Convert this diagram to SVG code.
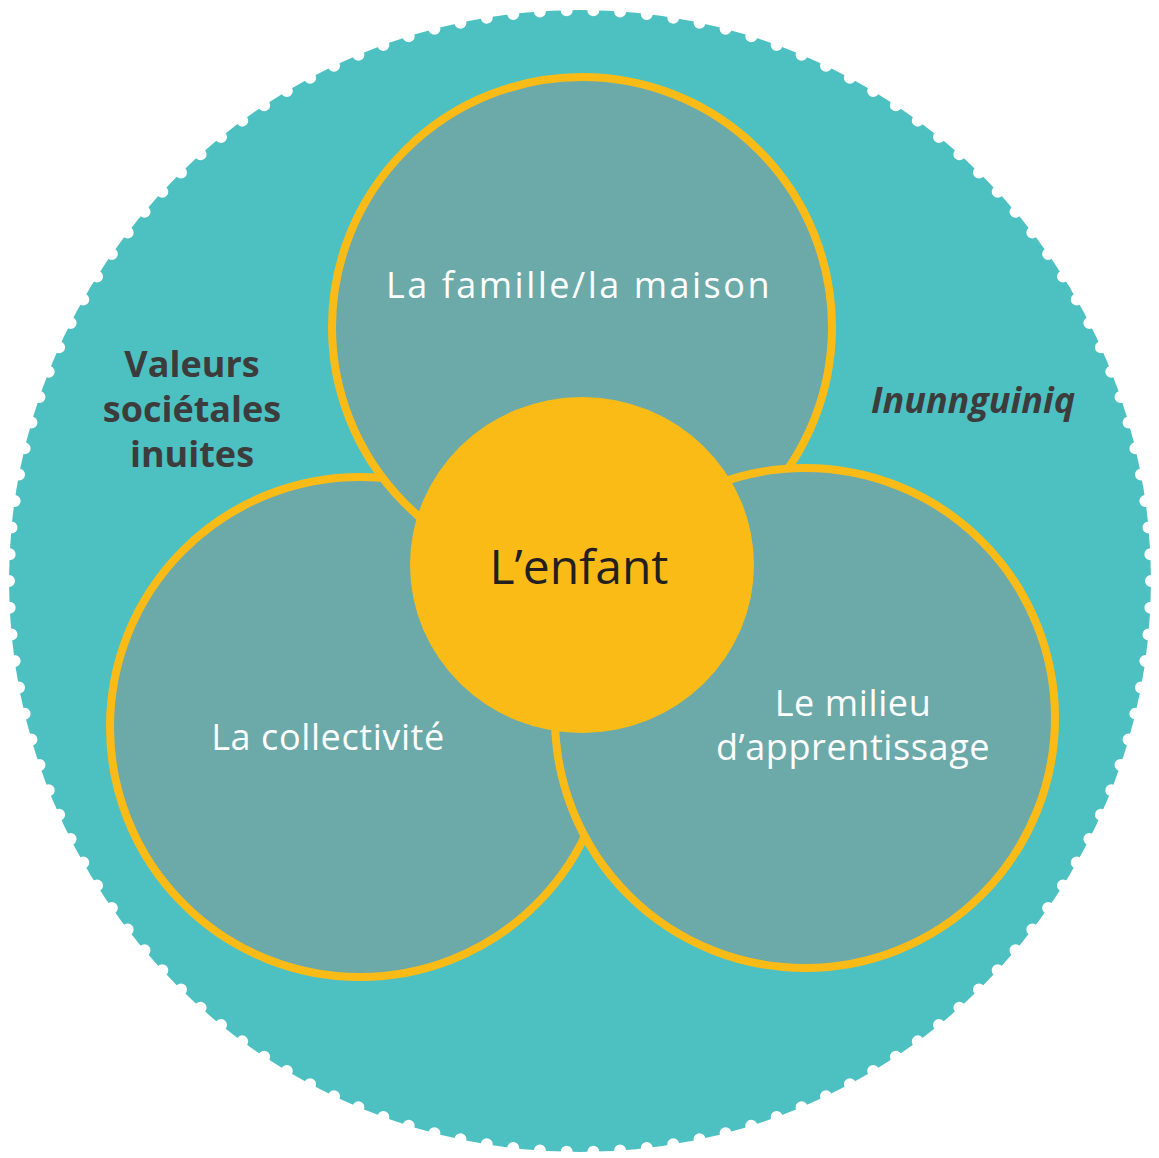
<svg xmlns="http://www.w3.org/2000/svg" width="1159" height="1158" viewBox="0 0 1159 1158">
<style>
.sub{fill:#6BAAA9;stroke:#FBBB17;stroke-width:8}
.wt{fill:#FFFFFF;font-family:"Open Sans","DejaVu Sans",sans-serif;text-anchor:middle}
.dk{fill:#3C3C3C;font-family:"Open Sans","DejaVu Sans",sans-serif;font-weight:bold;text-anchor:middle}
</style>
<rect width="1159" height="1158" fill="#FFFFFF"/>
<g id="outer">
<circle cx="580" cy="581" r="571" fill="#4DC0C2"/>
<circle cx="580" cy="581" r="571" fill="none" stroke="#FFFFFF" stroke-width="12" stroke-linecap="round" stroke-dasharray="0 1" pathLength="134"/>
<text class="dk" font-size="36" x="192" y="377">Valeurs</text>
<text class="dk" font-size="36" x="192" y="422">sociétales</text>
<text class="dk" font-size="36" x="192" y="467">inuites</text>
<text class="dk" font-size="36" font-style="italic" x="973" y="413">Inunnguiniq</text>
</g>
<g id="collectivite">
<circle class="sub" cx="360" cy="727" r="250"/>
<text class="wt" font-size="36" letter-spacing="0.6" x="328" y="750">La collectivité</text>
</g>
<g id="famille">
<circle class="sub" cx="582" cy="327" r="250"/>
<text class="wt" font-size="36" letter-spacing="2.5" x="579" y="298">La famille/la maison</text>
</g>
<g id="milieu">
<circle class="sub" cx="805" cy="718" r="250"/>
<text class="wt" font-size="36" letter-spacing="0.6" x="853" y="716">Le milieu</text>
<text class="wt" font-size="36" letter-spacing="0.6" x="853" y="760">d’apprentissage</text>
</g>
<g id="enfant">
<ellipse cx="582" cy="565" rx="172" ry="168" fill="#FBBB17"/>
<text font-family="'Open Sans','DejaVu Sans',sans-serif" font-size="48" fill="#231F20" text-anchor="middle" x="579" y="584">L’enfant</text>
</g>
<g id="connectors"></g>
</svg>
